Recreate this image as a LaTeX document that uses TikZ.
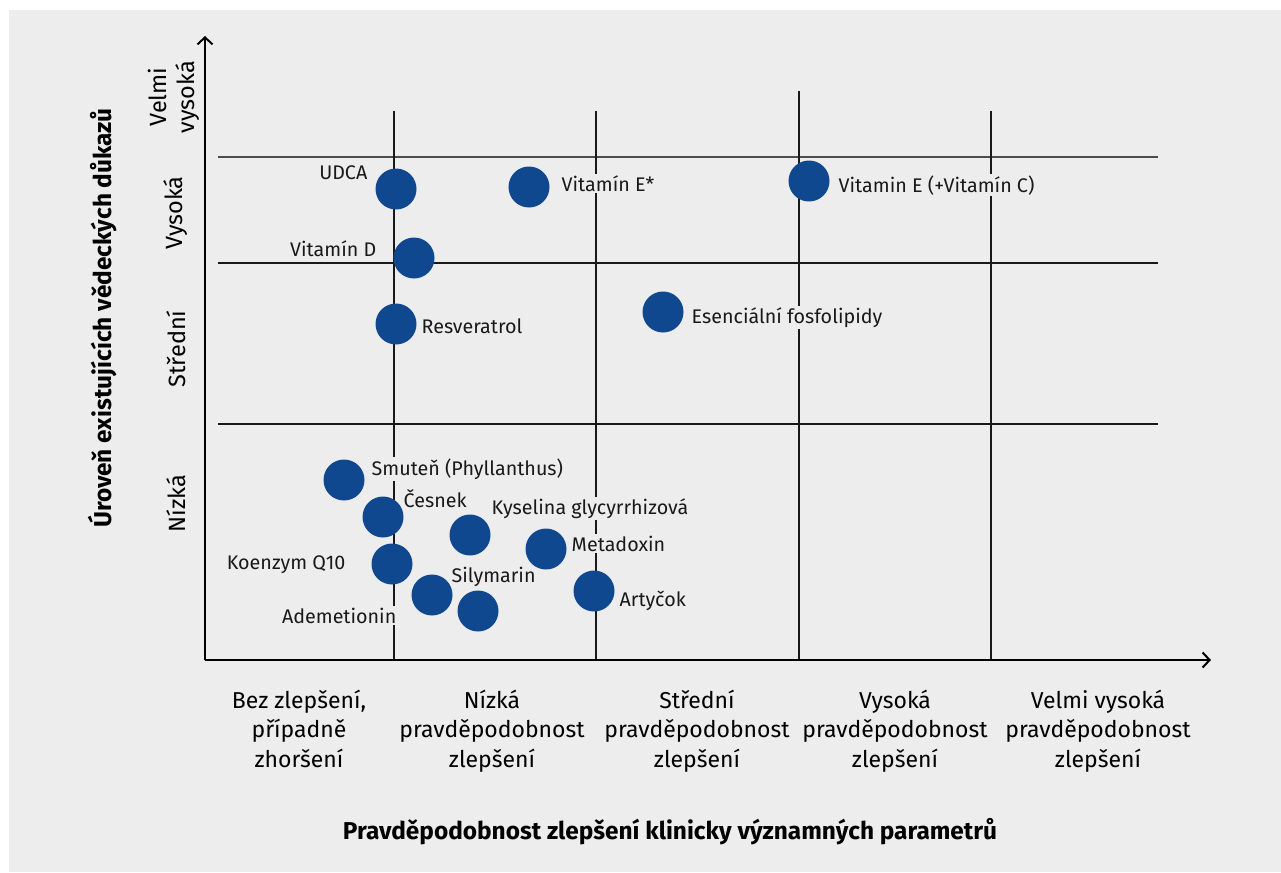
\documentclass[tikz,border=0pt]{standalone}
\usepackage{fontspec}
\setmainfont{Fira Sans}
\usetikzlibrary{arrows.meta}
\definecolor{bg}{HTML}{EDEDED}
\definecolor{dotc}{HTML}{10488F}
\newcommand{\tl}{\rule{0pt}{21pt}}
\begin{document}
\begin{tikzpicture}[x=1pt,y=-1pt,
  dot/.style={circle,fill=dotc,minimum size=41pt,inner sep=0pt},
  lbl/.style={font=\fontsize{19.7}{23}\selectfont,fill=bg,inner sep=1.5pt,text=black!90},
  gridline/.style={line width=1.3pt,black!90},
  axisline/.style={line width=2pt,-{Straight Barb[length=7pt,width=15pt,line width=2pt]}},
  cat/.style={font=\fontsize{23}{29.5}\selectfont,align=center,anchor=north,inner sep=0pt},
  ycat/.style={font=\fontsize{23.5}{28}\selectfont,align=center,rotate=90,inner sep=0pt},
  ttl/.style={font=\bfseries\fontsize{24.4}{28}\selectfont,inner sep=0pt}]
\path[use as bounding box] (0,0) rectangle (1281,872);
\fill[bg] (9,10) rectangle (1281,872);

% grid
\coordinate (h1a) at (218,157); \coordinate (h1b) at (1158,157);
\coordinate (h2a) at (218,263); \coordinate (h2b) at (1158,263);
\coordinate (h3a) at (218,424); \coordinate (h3b) at (1158,424);
\coordinate (v1a) at (394,111); \coordinate (v1b) at (394,660);
\coordinate (v2a) at (596,111); \coordinate (v2b) at (596,660);
\coordinate (v3a) at (799,91);  \coordinate (v3b) at (799,660);
\coordinate (v4a) at (991,111); \coordinate (v4b) at (991,660);
\draw[gridline,black!70] (h1a) -- (h1b);
\draw[gridline] (h2a) -- (h2b);
\draw[gridline] (h3a) -- (h3b);
\draw[gridline] (v1a) -- (v1b);
\draw[gridline] (v2a) -- (v2b);
\draw[gridline] (v3a) -- (v3b);
\draw[gridline] (v4a) -- (v4b);

% axes
\coordinate (o) at (205,660);
\coordinate (ytop) at (205,36);
\coordinate (xend) at (1211,660);
\draw[axisline] (o) -- (ytop);
\draw[axisline] (o) -- (xend);

% labels
\node[lbl,anchor=base east] (lUDCA) at (369,179) {UDCA};
\node[lbl,anchor=base west] (lVitE) at (560,191) {Vitamín E*};
\node[lbl,anchor=base west] (lVitEC) at (837,192) {Vitamin E (+Vitamín C)};
\node[lbl,anchor=base east] (lVitD) at (378,256) {Vitamín D};
\node[lbl,anchor=base west] (lRes) at (420,333) {Resveratrol};
\node[lbl,anchor=base west] (lEss) at (690,323) {Esenciální fosfolipidy};
\node[lbl,anchor=base west] (lSmu) at (370,475) {Smuteň (Phyllanthus)};
\node[lbl,anchor=base west] (lCes) at (402,507) {Česnek};
\node[lbl,anchor=base west] (lKys) at (490,514) {Kyselina glycyrrhizová};
\node[lbl,anchor=base west] (lMet) at (570,551) {Metadoxin};
\node[lbl,anchor=base east] (lKoe) at (347,569) {Koenzym Q10};
\node[lbl,anchor=base west] (lSil) at (450,582) {Silymarin};
\node[lbl,anchor=base east] (lAde) at (398,623) {Ademetionin};
\node[lbl,anchor=base west] (lArt) at (618,606) {Artyčok};

% bubbles
\node[dot] (UDCA) at (396,189) {};
\node[dot] (VitE) at (529,187) {};
\node[dot] (VitEC) at (809,181) {};
\node[dot] (VitD) at (414,258) {};
\node[dot] (Res) at (396,324) {};
\node[dot] (Ess) at (663,312) {};
\node[dot] (Smu) at (344,480) {};
\node[dot] (Ces) at (383,517) {};
\node[dot] (Kys) at (470,535) {};
\node[dot] (Met) at (546,549) {};
\node[dot] (Koe) at (392,564) {};
\node[dot] (Sil) at (432,595) {};
\node[dot] (Ade) at (478,611) {};
\node[dot] (Art) at (594,591) {};

% x categories
\node[cat] (c1) at (299,687) {\tl Bez zlepšení,\\případně\\zhoršení};
\node[cat] (c2) at (492,687) {\tl Nízká\\pravděpodobnost\\zlepšení};
\node[cat] (c3) at (697,687) {\tl Střední\\pravděpodobnost\\zlepšení};
\node[cat] (c4) at (895,687) {\tl Vysoká\\pravděpodobnost\\zlepšení};
\node[cat] (c5) at (1098,687) {\tl Velmi vysoká\\pravděpodobnost\\zlepšení};

% y categories
\node[ycat] (r4) at (174,97) {Velmi\\vysoká};
\node[ycat] (r3) at (176,213) {Vysoká};
\node[ycat] (r2) at (176,349) {Střední};
\node[ycat] (r1) at (176,504) {Nízká};

% titles
\node[ttl] (xt) at (670,832) {Pravděpodobnost zlepšení klinicky významných parametrů};
\node[ttl,rotate=90] (yt) at (103,318) {Úroveň existujících vědeckých důkazů};
\end{tikzpicture}
\end{document}
